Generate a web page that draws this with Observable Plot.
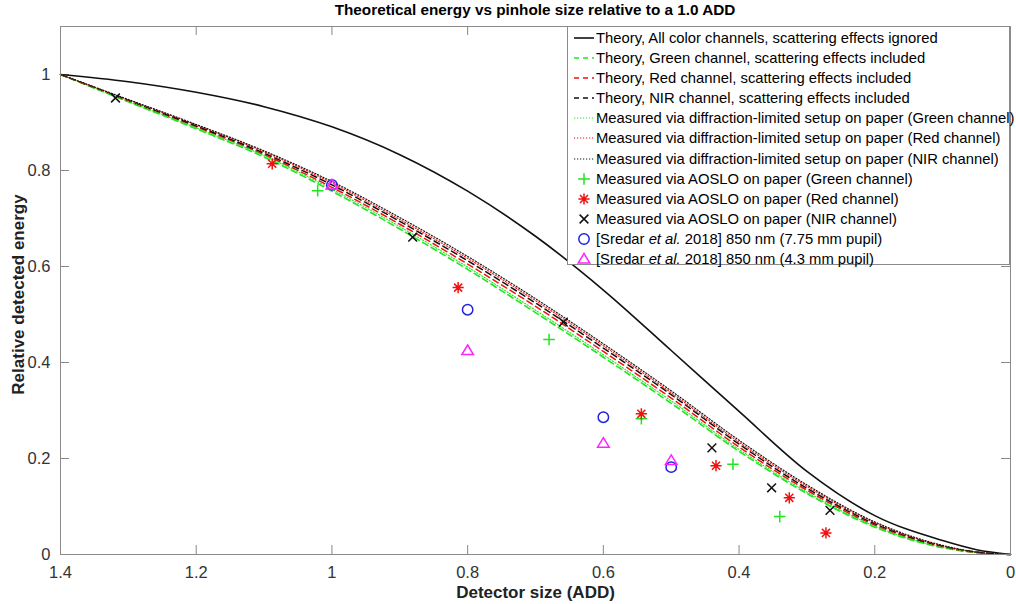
<!DOCTYPE html>
<html>
<head>
<meta charset="utf-8">
<script src="https://cdn.jsdelivr.net/npm/d3@7"></script>
<script src="https://cdn.jsdelivr.net/npm/@observablehq/plot@0.6"></script>
<style>
  body { margin: 0; background: #fff; }
  #wrap { position: relative; width: 1016px; height: 604px; font-family: "Liberation Sans", Arial, Helvetica, sans-serif; }
  #title { position: absolute; left: 60px; width: 950px; top: 1px; text-align: center; font-weight: bold; font-size: 15.3px; line-height: 18px; color: #000; }
  #chart { position: absolute; left: 0; top: 20px; }
  #legend { position: absolute; left: 567px; top: 26px; width: 443px; height: 239px; box-sizing: border-box; border: 1px solid #8a8a8a; background: #fff; }
  .row { position: absolute; left: 0; height: 20px; width: 440px; }
  .row svg { position: absolute; left: 5px; top: 0; }
  .row span { position: absolute; left: 28px; top: 0; line-height: 20px; font-size: 14.8px; color: #000; white-space: nowrap; }
</style>
</head>
<body>
<div id="wrap">
  <div id="title">Theoretical energy vs pinhole size relative to a 1.0 ADD</div>
  <div id="chart"></div>
  <div id="legend"></div>
</div>
<script>
// ---------- data ----------
const curveX = [1.4, 1.3, 1.2, 1.1, 1.0, 0.9, 0.8, 0.7, 0.6, 0.5, 0.4, 0.3, 0.2, 0.1, 0.05, 0];
const theoryAll   = [1.000, 0.985, 0.963, 0.933, 0.891, 0.833, 0.757, 0.663, 0.551, 0.425, 0.298, 0.173, 0.081, 0.029, 0.010, 0];
const theoryGreen = [1.000, 0.943, 0.887, 0.828, 0.757, 0.678, 0.594, 0.504, 0.411, 0.315, 0.215, 0.127, 0.057, 0.014, 0.004, 0];
const theoryRed   = [1.000, 0.945, 0.891, 0.833, 0.765, 0.688, 0.605, 0.517, 0.423, 0.326, 0.224, 0.134, 0.061, 0.016, 0.004, 0];
const theoryNIR   = [1.000, 0.946, 0.893, 0.836, 0.770, 0.694, 0.612, 0.524, 0.430, 0.333, 0.230, 0.138, 0.064, 0.017, 0.005, 0];
const dlGreen     = [1.000, 0.944, 0.889, 0.831, 0.761, 0.683, 0.599, 0.509, 0.416, 0.320, 0.219, 0.130, 0.059, 0.015, 0.004, 0];
const dlRed       = [1.000, 0.947, 0.895, 0.839, 0.774, 0.698, 0.617, 0.529, 0.435, 0.337, 0.234, 0.142, 0.066, 0.018, 0.005, 0];
const dlNIR       = [1.000, 0.948, 0.896, 0.841, 0.777, 0.702, 0.621, 0.533, 0.439, 0.341, 0.238, 0.145, 0.068, 0.019, 0.005, 0];

const aosloGreenX = [1.021, 0.680, 0.544, 0.409, 0.340];
const aosloGreenY = [0.758, 0.448, 0.283, 0.188, 0.079];
const aosloRedX   = [1.088, 0.814, 0.544, 0.434, 0.326, 0.272];
const aosloRedY   = [0.814, 0.556, 0.293, 0.185, 0.118, 0.045];
const aosloNIRX   = [1.319, 0.881, 0.659, 0.440, 0.352, 0.266];
const aosloNIRY   = [0.951, 0.661, 0.484, 0.222, 0.139, 0.092];
const sredar775X  = [1.0, 0.8, 0.6, 0.5];
const sredar775Y  = [0.770, 0.510, 0.286, 0.182];
const sredar43X   = [1.0, 0.8, 0.6, 0.5];
const sredar43Y   = [0.770, 0.425, 0.232, 0.196];

const xTicks = [1.4, 1.2, 1, 0.8, 0.6, 0.4, 0.2, 0];
const yTicks = [0, 0.2, 0.4, 0.6, 0.8, 1];

const legendLabels = [
  "Theory, All color channels, scattering effects ignored",
  "Theory, Green channel, scattering effects included",
  "Theory, Red channel, scattering effects included",
  "Theory, NIR channel, scattering effects included",
  "Measured via diffraction-limited setup on paper (Green channel)",
  "Measured via diffraction-limited setup on paper (Red channel)",
  "Measured via diffraction-limited setup on paper (NIR channel)",
  "Measured via AOSLO on paper (Green channel)",
  "Measured via AOSLO on paper (Red channel)",
  "Measured via AOSLO on paper (NIR channel)",
  "[Sredar <i>et al.</i> 2018] 850 nm (7.75 mm pupil)",
  "[Sredar <i>et al.</i> 2018] 850 nm (4.3 mm pupil)"
];

// ---------- styles ----------
const GREEN = "#1ee61e", RED = "#f01010", BLACK = "#111", BLUE = "#2222dd", MAGENTA = "#ff22ff";

function pathPlus(ctx, r) { ctx.moveTo(-r, 0); ctx.lineTo(r, 0); ctx.moveTo(0, -r); ctx.lineTo(0, r); }
function pathTimes(ctx, r) { const h = r * 0.78; ctx.moveTo(-h, -h); ctx.lineTo(h, h); ctx.moveTo(-h, h); ctx.lineTo(h, -h); }
function pathAsterisk(ctx, r) { pathPlus(ctx, r); pathTimes(ctx, r * 0.92); }
function pathCircle(ctx, r) { ctx.moveTo(r, 0); ctx.arc(0, 0, r, 0, 2 * Math.PI); }
function pathTriangle(ctx, r) { ctx.moveTo(0, -r * 0.95); ctx.lineTo(r, r * 0.7); ctx.lineTo(-r, r * 0.7); ctx.closePath(); }
const sym = f => ({ draw(ctx, size) { f(ctx, Math.sqrt(size / Math.PI)); } });

const table = ys => curveX.map((x, i) => ({ x, y: ys[i] }));
const pts = (xs, ys) => xs.map((x, i) => ({ x, y: ys[i] }));

const lineSpecs = [
  { data: theoryAll, stroke: BLACK, dash: null, w: 1.6 },
  { data: theoryGreen, stroke: GREEN, dash: "6,4", w: 1.6 },
  { data: theoryRed, stroke: RED, dash: "6,4", w: 1.5 },
  { data: theoryNIR, stroke: BLACK, dash: "6,4", w: 1.5 },
  { data: dlGreen, stroke: GREEN, dash: "1.2,1.8", w: 1.1 },
  { data: dlRed, stroke: RED, dash: "1.2,1.8", w: 1.1 },
  { data: dlNIR, stroke: BLACK, dash: "1.2,1.8", w: 1.1 }
];
const dotSpecs = [
  { xs: aosloGreenX, ys: aosloGreenY, stroke: GREEN, f: pathPlus, r: 5.8 },
  { xs: aosloRedX, ys: aosloRedY, stroke: RED, f: pathAsterisk, r: 5.6 },
  { xs: aosloNIRX, ys: aosloNIRY, stroke: BLACK, f: pathTimes, r: 5.6 },
  { xs: sredar775X, ys: sredar775Y, stroke: BLUE, f: pathCircle, r: 5.2 },
  { xs: sredar43X, ys: sredar43Y, stroke: MAGENTA, f: pathTriangle, r: 5.8 }
];

const W = 1016, H = 584, mL = 60, mR = 6, mT = 6, mB = 50;
const fw = W - mL - mR, fh = H - mT - mB, tick = 9;

const chart = Plot.plot({
  width: W, height: H,
  marginLeft: mL, marginRight: mR, marginTop: mT, marginBottom: mB,
  style: { fontFamily: "'Liberation Sans', Arial, Helvetica, sans-serif", background: "transparent", overflow: "visible" },
  x: { domain: [1.4, 0] },
  y: { domain: [0, 1.1] },
  marks: [
    Plot.axisX(xTicks, { tickSize: 0, tickPadding: 12, fontSize: 16.5, fill: "#333", tickFormat: d => String(d), label: null }),
    Plot.axisY(yTicks, { tickSize: 0, tickPadding: 10, fontSize: 16.5, fill: "#333", tickFormat: d => String(d), label: null }),
    Plot.ruleX(xTicks, { x: d => d, insetTop: fh - tick, stroke: "#888" }),
    Plot.ruleX(xTicks, { x: d => d, insetBottom: fh - tick, stroke: "#888" }),
    Plot.ruleY(yTicks, { y: d => d, insetRight: fw - tick, stroke: "#888" }),
    Plot.ruleY(yTicks, { y: d => d, insetLeft: fw - tick, stroke: "#888" }),
    ...lineSpecs.map(s => Plot.line(table(s.data), {
      x: "x", y: "y", stroke: s.stroke, strokeWidth: s.w, curve: "monotone-x",
      strokeDasharray: s.dash || undefined
    })),
    ...dotSpecs.map(s => Plot.dot(pts(s.xs, s.ys), {
      x: "x", y: "y", r: s.r, symbol: sym(s.f), stroke: s.stroke, strokeWidth: 1.5, fill: "none"
    })),
    Plot.frame({ stroke: "#8a8a8a" }),
    Plot.text(["Detector size (ADD)"], { frameAnchor: "bottom", dy: 38, text: d => d, fontSize: 17, fontWeight: "bold", fill: "#222", textAnchor: "middle", lineAnchor: "middle" }),
    Plot.text(["Relative detected energy"], { frameAnchor: "left", dx: -42, dy: 4, rotate: -90, text: d => d, fontSize: 17, fontWeight: "bold", fill: "#222", textAnchor: "middle", lineAnchor: "middle" })
  ]
});
document.getElementById("chart").appendChild(chart);

// ---------- legend ----------
const legend = document.getElementById("legend");
const samples = [
  ...lineSpecs.map(s => ({ type: "line", s })),
  ...dotSpecs.map(s => ({ type: "dot", s }))
];
samples.forEach((item, i) => {
  const row = document.createElement("div");
  row.className = "row";
  row.style.top = (0.7 + i * 20.15) + "px";
  let svg;
  const s = item.s;
  if (item.type === "line") {
    svg = `<svg width="22" height="20"><line x1="1" x2="21" y1="10" y2="10" stroke="${s.stroke}" stroke-width="${s.w}" ${s.dash ? `stroke-dasharray="${s.dash === "6,4" ? "5,4" : s.dash}"` : ""}/></svg>`;
  } else {
    const p = d3.path();
    s.f(p, s.r);
    svg = `<svg width="22" height="20"><path transform="translate(11,10)" d="${p.toString()}" fill="none" stroke="${s.stroke}" stroke-width="1.5"/></svg>`;
  }
  row.innerHTML = svg + `<span>${legendLabels[i]}</span>`;
  legend.appendChild(row);
});
</script>
</body>
</html>
